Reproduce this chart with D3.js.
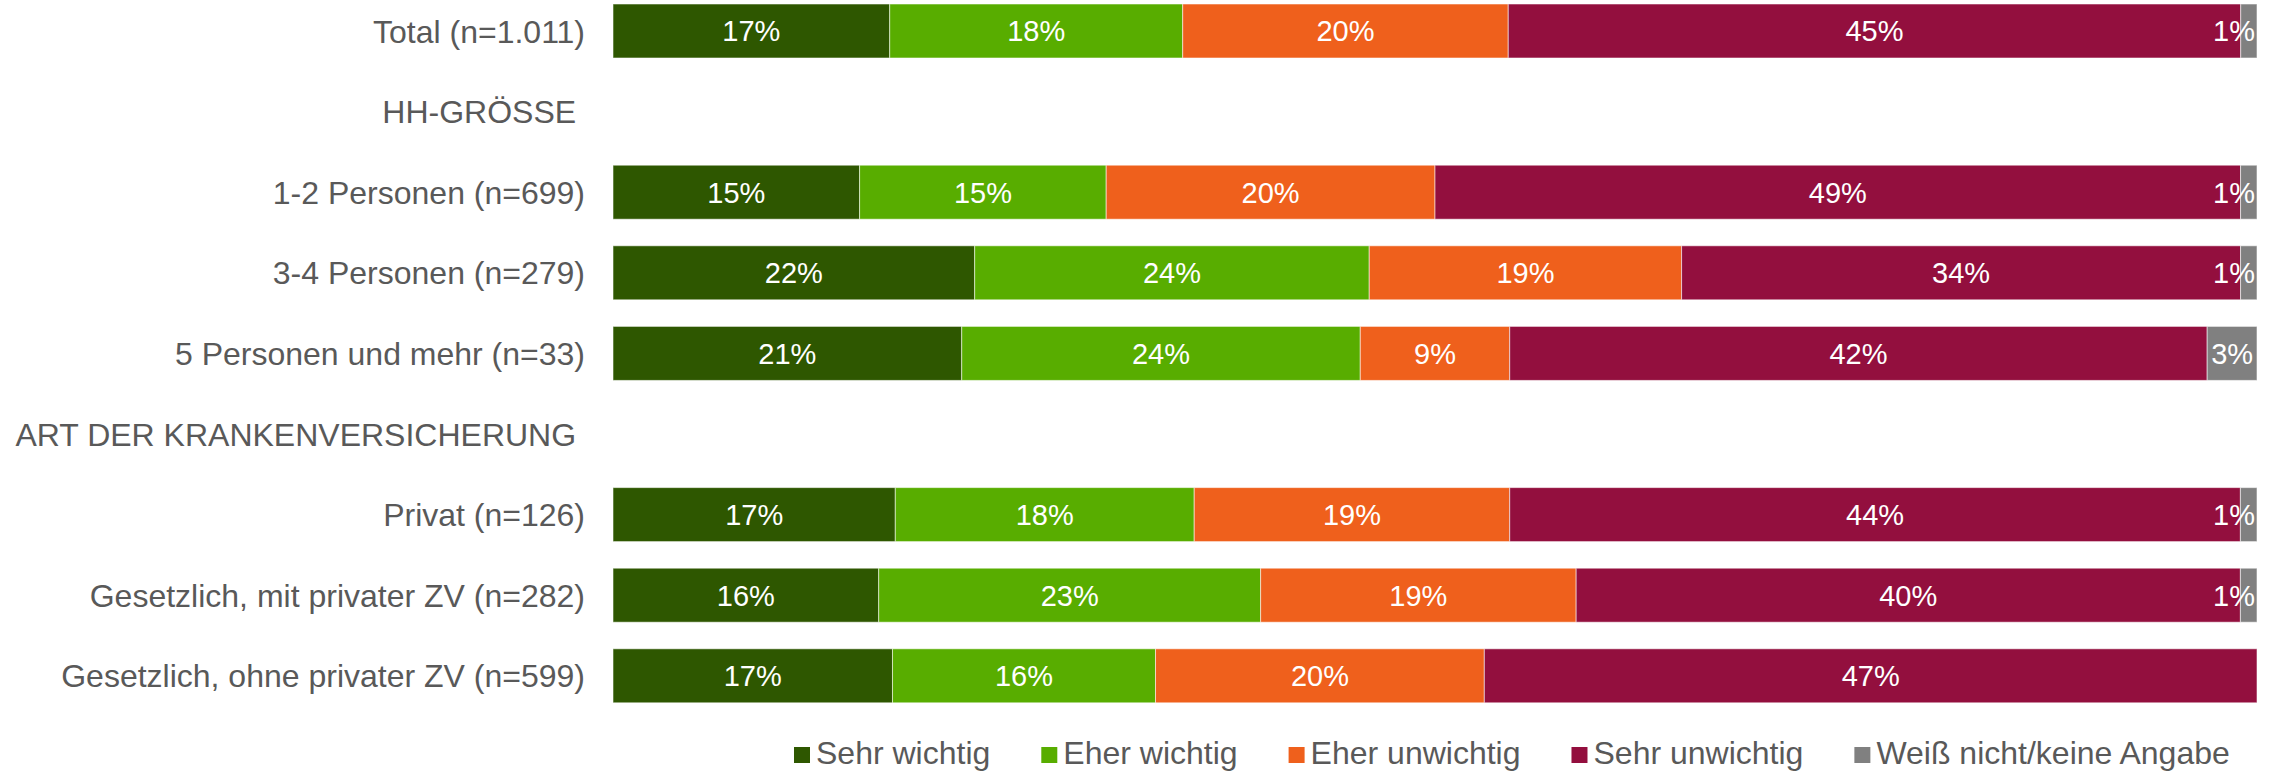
<!DOCTYPE html>
<html>
<head>
<meta charset="utf-8">
<script src="https://cdn.jsdelivr.net/npm/d3@7"></script>
<style>
  html, body { margin: 0; padding: 0; background: #fff; }
  svg { display: block; font-family: "Liberation Sans", Arial, sans-serif; }
</style>
</head>
<body>
<svg id="chart" width="2277" height="772"></svg>
<script>
// Row labels (section headers carry no bars)
const categories = [
  "Total (n=1.011)",
  "HH-GRÖSSE ",
  "1-2 Personen (n=699)",
  "3-4 Personen (n=279)",
  "5 Personen und mehr (n=33)",
  "ART DER KRANKENVERSICHERUNG ",
  "Privat (n=126)",
  "Gesetzlich, mit privater ZV (n=282)",
  "Gesetzlich, ohne privater ZV (n=599)"
];

const seriesNames = ["Sehr wichtig", "Eher wichtig", "Eher unwichtig", "Sehr unwichtig", "Weiß nicht/keine Angabe"];
const seriesColors = ["#2e5700", "#58ad00", "#ef601c", "#930f3e", "#808080"];

// Shares in percent per row (null = header row)
const sehrWichtig    = [17, null, 15, 22, 21, null, 17, 16, 17];
const eherWichtig    = [18, null, 15, 24, 24, null, 18, 23, 16];
const eherUnwichtig  = [20, null, 20, 19,  9, null, 19, 19, 20];
const sehrUnwichtig  = [45, null, 49, 34, 42, null, 44, 40, 47];
const weissNicht     = [ 1, null,  1,  1,  3, null,  1,  1,  0];

const seriesValues = [sehrWichtig, eherWichtig, eherUnwichtig, sehrUnwichtig, weissNicht];

// Table for the stack layout: one record per row that has values
const table = categories.map((c, i) => {
  const rec = { category: c };
  seriesNames.forEach((s, k) => { rec[s] = seriesValues[k][i]; });
  return rec;
}).filter(r => r[seriesNames[0]] != null);

const stacked = d3.stack()
  .keys(seriesNames)
  .offset(d3.stackOffsetExpand)(table);

const svg = d3.select("#chart");

const x = d3.scaleLinear().domain([0, 1]).range([613, 2257]);
const y = d3.scaleBand()
  .domain(categories)
  .range([-9.3, 716.1])
  .paddingInner(0.33)
  .paddingOuter(0.165);

const color = d3.scaleOrdinal().domain(seriesNames).range(seriesColors);

// Clip data labels to the plot area
svg.append("defs").append("clipPath").attr("id", "plotClip")
  .append("rect")
  .attr("x", x.range()[0]).attr("y", 0)
  .attr("width", x.range()[1] - x.range()[0]).attr("height", 772);

// Bars
const layers = svg.append("g").selectAll("g")
  .data(stacked)
  .join("g")
  .attr("fill", d => color(d.key));

layers.selectAll("rect")
  .data(d => d.map(p => ({ key: d.key, p })))
  .join("rect")
  .attr("x", d => x(d.p[0]))
  .attr("y", d => y(d.p.data.category))
  .attr("width", d => Math.max(0, x(d.p[1]) - x(d.p[0])))
  .attr("height", y.bandwidth())
  .attr("stroke", "rgba(255,255,255,0.55)")
  .attr("stroke-width", 1);

// Data labels
const labelG = svg.append("g").attr("clip-path", "url(#plotClip)");
stacked.forEach(layer => {
  layer.forEach(p => {
    const v = p.data[layer.key];
    if (!v) return;
    const cx = (x(p[0]) + x(p[1])) / 2;
    const t = labelG.append("text")
      .attr("y", y(p.data.category) + y.bandwidth() / 2)
      .attr("dy", "0.36em")
      .attr("text-anchor", "middle")
      .attr("fill", "#ffffff")
      .attr("font-size", 29)
      .text(v + "%");
    const w = t.node().getComputedTextLength();
    const maxX = x.range()[1] - w / 2 - 2;
    t.attr("x", Math.min(cx, maxX));
  });
});

// Category axis labels
svg.append("g").selectAll("text")
  .data(categories)
  .join("text")
  .attr("x", 585)
  .attr("y", d => y(d) + y.bandwidth() / 2)
  .attr("dy", "0.36em")
  .attr("text-anchor", "end")
  .attr("fill", "#595959")
  .attr("font-size", 32)
  .style("white-space", "pre")
  .text(d => d);

// Legend
const legend = svg.append("g").attr("transform", "translate(794, 752)");
let lx = 0;
seriesNames.forEach((s, i) => {
  const g = legend.append("g").attr("transform", `translate(${lx},0)`);
  g.append("rect")
    .attr("x", 0).attr("y", -5)
    .attr("width", 16).attr("height", 16)
    .attr("fill", color(s));
  const t = g.append("text")
    .attr("x", 22)
    .attr("y", 0)
    .attr("dy", "0.36em")
    .attr("fill", "#595959")
    .attr("font-size", 32)
    .text(s);
  lx += 22 + t.node().getComputedTextLength() + 51;
});
</script>
</body>
</html>
